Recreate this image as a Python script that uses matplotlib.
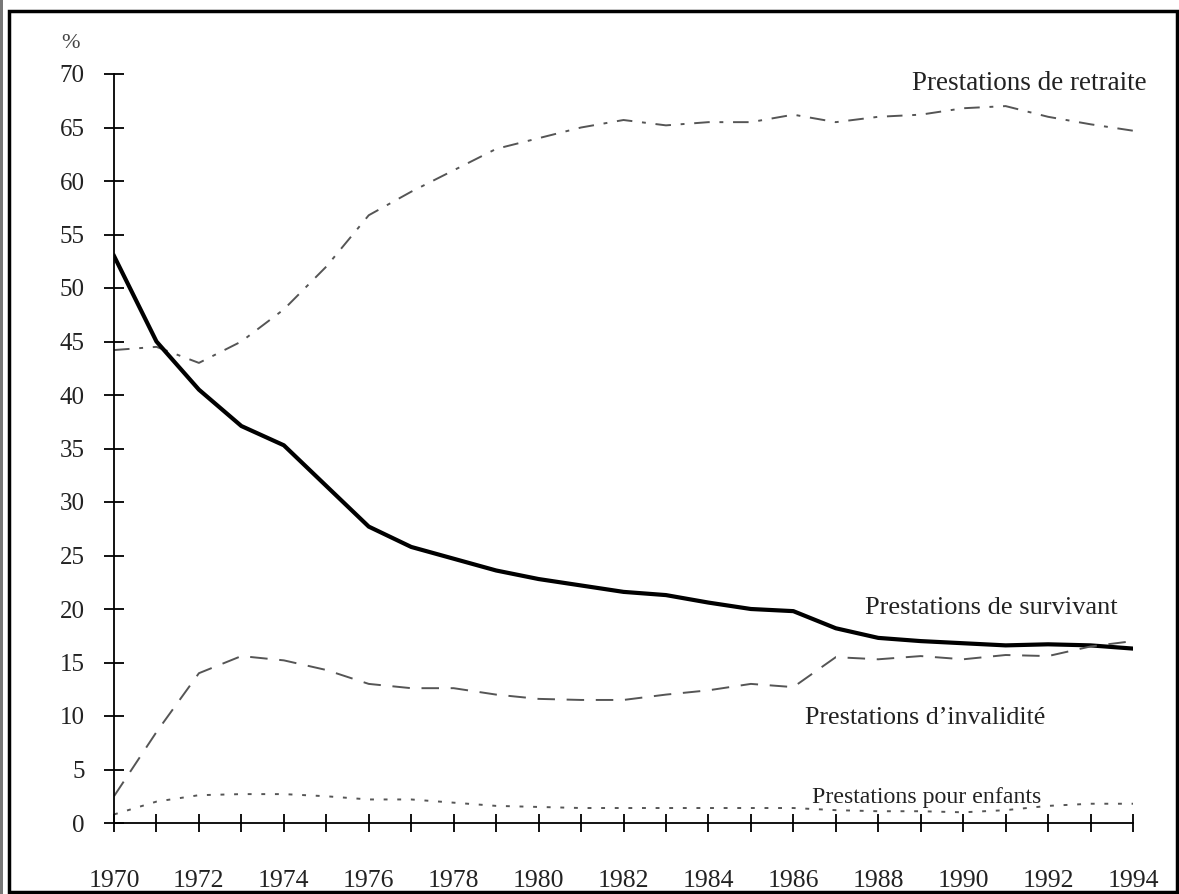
import matplotlib
matplotlib.use("Agg")
import matplotlib.pyplot as plt
from matplotlib.patches import Rectangle

years = list(range(1970, 1995))
retraite = [44.2, 44.5, 43.0, 45.0, 48.0, 52.0, 56.8, 59.0, 61.0, 63.0, 64.0, 65.0, 65.7,
            65.2, 65.5, 65.5, 66.2, 65.5, 66.0, 66.2, 66.8, 67.0, 66.0, 65.3, 64.7]
survivant = [53.0, 45.0, 40.5, 37.1, 35.3, 31.5, 27.7, 25.8, 24.7, 23.6, 22.8, 22.2, 21.6,
             21.3, 20.6, 20.0, 19.8, 18.2, 17.3, 17.0, 16.8, 16.6, 16.7, 16.6, 16.3]
invalidite = [2.5, 8.5, 14.0, 15.6, 15.2, 14.3, 13.0, 12.6, 12.6, 12.0, 11.6, 11.5, 11.5,
              12.0, 12.4, 13.0, 12.7, 15.5, 15.3, 15.6, 15.3, 15.7, 15.6, 16.5, 17.0]
enfants = [0.8, 2.0, 2.6, 2.7, 2.7, 2.5, 2.2, 2.2, 1.9, 1.6, 1.5, 1.4, 1.4,
           1.4, 1.4, 1.4, 1.4, 1.2, 1.1, 1.1, 1.0, 1.2, 1.6, 1.8, 1.8]
ytick_vals = list(range(0, 75, 5))
xlabel_years = list(range(1970, 1995, 2))
labels = {
    "retraite": "Prestations de retraite",
    "survivant": "Prestations de survivant",
    "invalidite": "Prestations d\u2019invalidité",
    "enfants": "Prestations pour enfants",
}

plt.rcParams['font.family'] = ['Liberation Serif', 'DejaVu Serif']

fig = plt.figure(figsize=(11.79, 8.94), dpi=100)
ax = fig.add_axes([114/1179, 1-823/894, (1133-114)/1179, (823-74)/894])

ax.plot(years, retraite, color='#555555', lw=1.4, linestyle=(0, (8, 5, 2, 5)))
ax.plot(years, survivant, color='black', lw=3.0)
ax.plot(years, invalidite, color='#555555', lw=1.4, linestyle=(0, (9, 6)))
ax.plot(years, enfants, color='#555555', lw=1.4, linestyle=(0, (2, 5)))

ax.set_xlim(1970, 1994)
ax.set_ylim(0, 70)
ax.spines['top'].set_visible(False)
ax.spines['right'].set_visible(False)
ax.spines['left'].set_linewidth(1.3)
ax.spines['bottom'].set_linewidth(1.3)
ax.set_yticks(ytick_vals)
ax.set_yticklabels([str(v) for v in ytick_vals], fontsize=18, color='#222222')
ax.set_xticks(years)
ax.set_xticklabels([str(y) if y in xlabel_years else '' for y in years], fontsize=18.5, color='#222222')
ax.tick_params(axis='y', direction='inout', length=14, width=1.3, pad=14)
ax.tick_params(axis='x', direction='inout', length=13, width=1.3, pad=27)
ax.patch.set_visible(False)

ax.text(1988.79, 69.07, labels["retraite"], fontsize=19.5, ha='left', va='center', color='#222222')
ax.text(1987.69, 20.1, labels["survivant"], fontsize=19, ha='left', va='center', color='#222222')
ax.text(1986.27, 9.8, labels["invalidite"], fontsize=18.7, ha='left', va='center', color='#222222')
ax.text(1986.44, 2.4, labels["enfants"], fontsize=17.2, ha='left', va='center', color='#222222')
fig.text(70/1179, 1-43/894, "%", fontsize=16, ha='center', va='center', color='#444444')

fig.patches.append(Rectangle((9/1179, 1-892/894), (1177-9)/1179, (892-11)/894,
                             transform=fig.transFigure, fill=False, edgecolor='black', lw=2.5))
fig.patches.append(Rectangle((0, 0), 3/1179, 1, transform=fig.transFigure,
                             facecolor='#777777', edgecolor='none'))

fig.savefig("out.png", dpi=100)
